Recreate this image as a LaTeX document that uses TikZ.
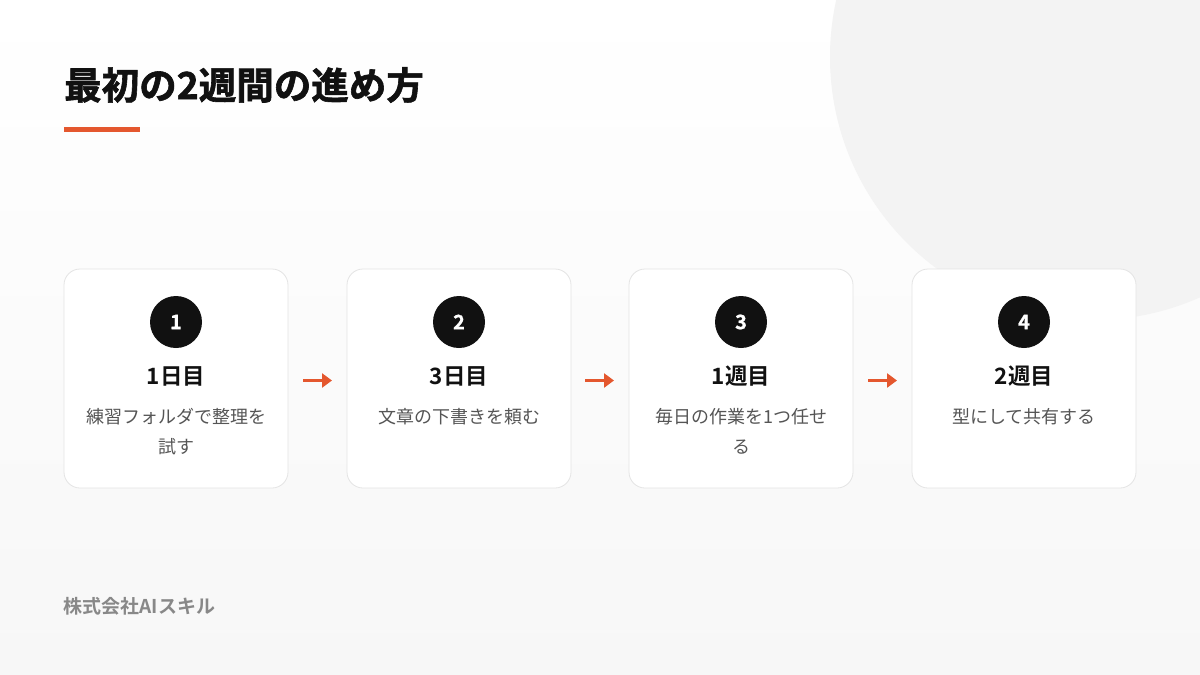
\documentclass[tikz,border=0pt]{standalone}
\usepackage{fontspec}
\setmainfont{Noto Sans CJK JP}[BoldFont={Noto Sans CJK JP Bold}]
\newfontfamily\heavyfont{Noto Sans CJK JP Bold}[FakeBold=1.6]
\newfontfamily\numfont{Noto Sans CJK JP Bold}[FakeBold=1]
\usetikzlibrary{arrows.meta}
\definecolor{accent}{HTML}{E4572E}
\definecolor{ink}{HTML}{111111}
\definecolor{desc}{HTML}{555555}
\definecolor{foot}{HTML}{888888}
\definecolor{cardline}{HTML}{E4E4E4}
\definecolor{bgbot}{HTML}{F7F7F7}
\definecolor{blob}{HTML}{F3F3F3}
\tikzset{
  card/.style={draw=cardline, line width=0.8pt, fill=white, rounded corners=16pt,
    minimum width=224pt, minimum height=219pt, inner sep=0pt},
  badge/.style={circle, fill=ink, minimum size=52pt, inner sep=0pt,
    text=white, font=\fontsize{20}{20}\selectfont\numfont},
  stephead/.style={text=ink, font=\fontsize{22.5}{22.5}\selectfont\bfseries, inner sep=0pt},
  stepdesc/.style={text=desc, font=\fontsize{18}{30}\selectfont, align=center, inner sep=0pt, anchor=north},
  flow/.style={draw=accent, line width=3.4pt, shorten <=15pt, shorten >=15pt,
    -{Triangle[length=10pt,width=14pt]}},
}
\begin{document}
\begin{tikzpicture}[x=1pt,y=-1pt]
\useasboundingbox (0,0) rectangle (1200,675);
\begin{scope}
\clip (0,0) rectangle (1200,675);
\shade[top color=white, bottom color=bgbot] (0,0) rectangle (1200,675);
\fill[blob] (1093,57) circle (263);
\end{scope}
% title
\node[anchor=west, inner sep=0pt, text=ink, font=\fontsize{37.5}{37.5}\selectfont\heavyfont] (title) at (64,85) {最初の2週間の進め方};
\fill[accent] (64,127) rectangle (140,131.5);
% cards
\foreach \i/\x in {1/176, 2/459, 3/741, 4/1024}{
  \node[card] (c\i) at (\x,378.5) {};
  \node[badge] (b\i) at (\x,322) {\raisebox{-1pt}{\i}};
}
\node[stephead] (h1) at (176,376) {1日目};
\node[stephead] (h2) at (459,376) {3日目};
\node[stephead] (h3) at (741,376) {1週目};
\node[stephead] (h4) at (1024,376) {2週目};
\node[stepdesc] (d1) at (176,408) {練習フォルダで整理を\\試す};
\node[stepdesc] (d2) at (459,408) {文章の下書きを頼む};
\node[stepdesc] (d3) at (741,408) {毎日の作業を1つ任せ\\る};
\node[stepdesc] (d4) at (1024,408) {型にして共有する};
% arrows
\coordinate (a1) at (288,380.5); \coordinate (a2) at (347,380.5);
\coordinate (a3) at (570,380.5); \coordinate (a4) at (629,380.5);
\coordinate (a5) at (853,380.5); \coordinate (a6) at (912,380.5);
\draw[flow] (a1) -- (a2);
\draw[flow] (a3) -- (a4);
\draw[flow] (a5) -- (a6);
% footer
\node[anchor=west, inner sep=0pt, text=foot, font=\fontsize{19}{19}\selectfont\bfseries] (footer) at (63.5,606) {株式会社AIスキル};
\end{tikzpicture}
\end{document}
